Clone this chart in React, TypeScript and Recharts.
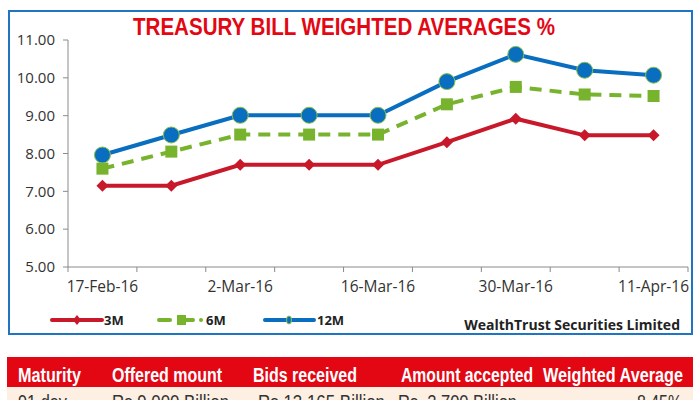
import React from 'react';
import { LineChart, Line, XAxis, YAxis } from 'recharts';

const dates = ['17-Feb-16', '24-Feb-16', '2-Mar-16', '9-Mar-16', '16-Mar-16', '23-Mar-16', '30-Mar-16', '6-Apr-16', '11-Apr-16'];
const threeMonth = [7.15, 7.15, 7.7, 7.7, 7.7, 8.3, 8.92, 8.48, 8.48];
const sixMonth = [7.6, 8.05, 8.5, 8.5, 8.5, 9.3, 9.76, 9.56, 9.52];
const twelveMonth = [7.96, 8.49, 9.01, 9.01, 9.01, 9.9, 10.62, 10.2, 10.07];
const yTicks = [5, 6, 7, 8, 9, 10, 11];

const tableHeaders = ['Maturity', 'Offered mount', 'Bids received', 'Amount accepted', 'Weighted Average'];
const tableRow = ['91 day', 'Rs.9,000 Billion', 'Rs.13,165 Billion', 'Rs. 2,700 Billion', '8.45%'];

const data = dates.map((d, i) => ({
  date: d,
  m3: threeMonth[i],
  m6: sixMonth[i],
  m12: twelveMonth[i],
}));

const RED = '#c8192b';
const GREEN = '#78b32e';
const BLUE = '#0a6ec0';
const AXIS = '#8a8a8a';
const FONT = '"Open Sans", sans-serif';
const SANS = '"Liberation Sans", Arial, sans-serif';

const PLOT_LEFT = 68;
const PLOT_RIGHT = 688;
const HALF_BAND = (PLOT_RIGHT - PLOT_LEFT) / dates.length / 2;

// header cells: [x, width] so the condensed look of the original is kept
const headerBox = [[18, 63], [112, 110], [253, 104], [401, 132], [543, 140]];
const rowBox = [[18, 49], [112, 117], [258, 127], [398, 119], [637, 45]];

const DateTick = ({ x, y, payload, index }: any) => {
  const last = index === dates.length - 1;
  return (
    <g>
      <line x1={x - HALF_BAND} y1={y - 8} x2={x - HALF_BAND} y2={y - 3} stroke={AXIS} />
      {last && <line x1={x + HALF_BAND} y1={y - 8} x2={x + HALF_BAND} y2={y - 3} stroke={AXIS} />}
      {index % 2 === 0 && (
        <text x={x} y={y + 17} textAnchor="middle" fill="#333" fontSize={15.5} fontFamily={FONT}>
          {payload.value}
        </text>
      )}
    </g>
  );
};

const Diamond = ({ cx, cy }: any) => (
  <path d={`M${cx},${cy - 6} L${cx + 6},${cy} L${cx},${cy + 6} L${cx - 6},${cy} Z`} fill={RED} />
);

const Square = ({ cx, cy }: any) => (
  <rect x={cx - 6} y={cy - 6} width={12} height={12} fill={GREEN} />
);

const Dot = ({ cx, cy }: any) => (
  <circle cx={cx} cy={cy} r={8} fill={BLUE} stroke="#8cc04a" strokeWidth={1} />
);

export default function App() {
  return (
    <div style={{ position: 'absolute', left: 0, top: 0, width: 700, height: 400, background: '#fff', overflow: 'hidden' }}>
      <div style={{ position: 'absolute', left: 8, top: 10, width: 681, height: 321, border: '2px solid #1f74c4' }} />

      <div style={{ position: 'absolute', left: 0, top: 0 }}>
        <LineChart width={700} height={300} data={data} margin={{ top: 40, right: 700 - PLOT_RIGHT, bottom: 3, left: 0 }}>
          <XAxis
            dataKey="date"
            interval={0}
            tickLine={false}
            stroke={AXIS}
            height={30}
            padding={{ left: HALF_BAND, right: HALF_BAND }}
            tick={<DateTick />}
          />
          <YAxis
            width={PLOT_LEFT}
            domain={[5, 11]}
            ticks={yTicks}
            interval={0}
            stroke={AXIS}
            tickSize={5}
            tickMargin={8}
            tickFormatter={(v: number) => v.toFixed(2)}
            tick={{ fill: '#333', fontSize: 15, fontFamily: FONT }}
          />
          <Line dataKey="m3" stroke={RED} strokeWidth={4} dot={<Diamond />} isAnimationActive={false} />
          <Line dataKey="m6" stroke={GREEN} strokeWidth={4} strokeDasharray="12 8" dot={<Square />} isAnimationActive={false} />
          <Line dataKey="m12" stroke={BLUE} strokeWidth={4} dot={<Dot />} isAnimationActive={false} />
        </LineChart>
      </div>

      <svg style={{ position: 'absolute', left: 0, top: 0 }} width={700} height={400}>
        <text x={133} y={35} textLength={422} lengthAdjust="spacingAndGlyphs" fontSize={23} fontWeight="bold" fill="#e30613" fontFamily={SANS}>
          TREASURY BILL WEIGHTED AVERAGES %
        </text>

        <line x1={52} y1={320} x2={102} y2={320} stroke={RED} strokeWidth={4} strokeLinecap="round" />
        <path d="M77,315 L81,320 L77,325 L73,320 Z" fill={RED} />
        <text x={104} y={325} fontSize={13} fontWeight="bold" fill="#222" fontFamily={FONT}>3M</text>
        <line x1={159} y1={320} x2={170} y2={320} stroke={GREEN} strokeWidth={4} strokeLinecap="round" />
        <rect x={177} y={315} width={9} height={10} fill={GREEN} />
        <line x1={186} y1={320} x2={193} y2={320} stroke={GREEN} strokeWidth={4} strokeLinecap="round" />
        <circle cx={201} cy={320} r={2} fill={GREEN} />
        <text x={206} y={325} fontSize={13} fontWeight="bold" fill="#222" fontFamily={FONT}>6M</text>
        <line x1={265} y1={320} x2={314} y2={320} stroke={BLUE} strokeWidth={4} strokeLinecap="round" />
        <ellipse cx={289} cy={320} rx={2.5} ry={4} fill={BLUE} stroke="#8cc04a" strokeWidth={1} />
        <text x={317} y={325} fontSize={13} fontWeight="bold" fill="#222" fontFamily={FONT}>12M</text>
        <text x={680} y={330} textAnchor="end" fontSize={14} fontWeight="bold" fill="#222" fontFamily={FONT}>WealthTrust Securities Limited</text>

        <rect x={7} y={357} width={686} height={30} fill="#e30613" />
        <rect x={7} y={387} width={686} height={13} fill="#fdf0e3" />
        {tableHeaders.map((h, i) => (
          <text
            key={h}
            x={headerBox[i][0]}
            y={382}
            textLength={headerBox[i][1]}
            lengthAdjust="spacingAndGlyphs"
            fontSize={21}
            fontWeight="bold"
            fill="#fff"
            fontFamily={SANS}
          >
            {h}
          </text>
        ))}
        {tableRow.map((c, i) => (
          <text
            key={c}
            x={rowBox[i][0]}
            y={409}
            textLength={rowBox[i][1]}
            lengthAdjust="spacingAndGlyphs"
            fontSize={21}
            fill="#333"
            fontFamily={SANS}
          >
            {c}
          </text>
        ))}
      </svg>
    </div>
  );
}
